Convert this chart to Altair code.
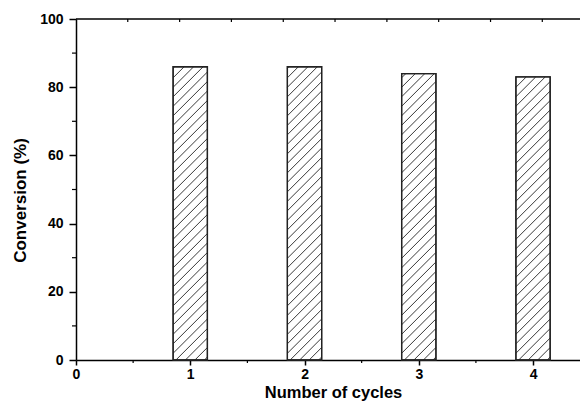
import altair as alt
import pandas as pd

cycles = [1, 2, 3, 4]
conversion = [86, 86, 84, 83]
x_major = [0, 1, 2, 3, 4]
x_minor = [0.5, 1.5, 2.5, 3.5]
y_major = [0, 20, 40, 60, 80, 100]
y_minor = [10, 30, 50, 70, 90]
top_ticks = [0.453, 0.907, 1.360, 1.814, 2.267, 2.721, 3.174, 3.628, 4.081]

W, H = 504, 341
XMAX = 4.411
BAR_HALF = 0.15
HATCH_STEP = 9.5  # px, vertical spacing of hatch lines

FONT = "Liberation Sans"

bars = pd.DataFrame({"c": cycles, "v": conversion})
bars["x0"] = bars["c"] - BAR_HALF
bars["x1"] = bars["c"] + BAR_HALF
bars["y0"] = 0

# hatch segments ("/") computed from bar geometry, expressed in data units
pxx = W / XMAX
pxy = H / 100.0
segs = []
for c, v in zip(cycles, conversion):
    w = 2 * BAR_HALF * pxx
    h = v * pxy
    off = -w + 3
    k = 0
    while off < h:
        if off < 0:
            sx, sy = -off, 0.0
        else:
            sx, sy = 0.0, off
        if off + w > h:
            ex, ey = h - off, h
        else:
            ex, ey = w, off + w
        if ex > sx:
            segs.append({
                "id": f"{c}-{k}",
                "xa": c - BAR_HALF + sx / pxx, "ya": sy / pxy,
                "xb": c - BAR_HALF + ex / pxx, "yb": ey / pxy,
            })
        off += HATCH_STEP
        k += 1
hatch = pd.DataFrame(segs)

xs = alt.Scale(domain=[0, XMAX], nice=False, zero=False)
ys = alt.Scale(domain=[0, 100], nice=False)

x_axis = alt.Axis(
    values=x_major, format="d", tickSize=5, tickWidth=1.5, tickColor="black",
    domainColor="black", domainWidth=1.5, labelFont=FONT, labelFontSize=14,
    labelFontWeight="bold", labelColor="black", labelPadding=2, grid=False,
    labelFlush=False,
    title="Number of cycles", titleFont=FONT, titleFontSize=16.5,
    titleFontWeight="bold", titleColor="black", titleX=257, titleY=37,
    titleBaseline="alphabetic", titleAnchor="middle", titleAlign="center",
)
y_axis = alt.Axis(
    values=y_major, format="d", tickSize=7, tickWidth=1.5, tickColor="black",
    domainColor="black", domainWidth=1.5, labelFont=FONT, labelFontSize=14,
    labelFontWeight="bold", labelColor="black", labelPadding=6, grid=False,
    labelFlush=False,
    title="Conversion (%)", titleFont=FONT, titleFontSize=17,
    titleFontWeight="bold", titleColor="black", titleX=-56, titleY=181,
    titleAngle=-90, titleBaseline="middle", titleAlign="center",
)

base_bars = alt.Chart(bars).mark_rect(
    fill="white", stroke="#222", strokeWidth=1.3
).encode(
    x=alt.X("x0:Q", scale=xs, axis=x_axis),
    x2="x1:Q",
    y=alt.Y("y0:Q", scale=ys, axis=y_axis),
    y2="v:Q",
)

hatch_layer = alt.Chart(hatch).mark_rule(color="#222", strokeWidth=0.9).encode(
    x=alt.X("xa:Q", scale=xs),
    x2="xb:Q",
    y=alt.Y("ya:Q", scale=ys),
    y2="yb:Q",
)

bar_outline = alt.Chart(bars).mark_rect(
    fill=None, stroke="#222", strokeWidth=1.3
).encode(x=alt.X("x0:Q", scale=xs), x2="x1:Q", y=alt.Y("y0:Q", scale=ys), y2="v:Q")

top_line = alt.Chart(pd.DataFrame({"a": [0]})).mark_rule(
    color="black", strokeWidth=1.5
).encode(x=alt.value(0), x2=alt.value(W), y=alt.value(0))

top_tick_layer = alt.Chart(pd.DataFrame({"t": top_ticks})).mark_rule(
    color="black", strokeWidth=1.2
).encode(x=alt.X("t:Q", scale=xs), y=alt.value(0), y2=alt.value(3))

x_minor_layer = alt.Chart(pd.DataFrame({"t": x_minor})).mark_rule(
    color="black", strokeWidth=1.2
).encode(x=alt.X("t:Q", scale=xs), y=alt.value(H), y2=alt.value(H + 3))

y_minor_layer = alt.Chart(pd.DataFrame({"t": y_minor})).mark_rule(
    color="black", strokeWidth=1.2
).encode(y=alt.Y("t:Q", scale=ys), x=alt.value(-4), x2=alt.value(0))

chart = alt.layer(
    base_bars, hatch_layer, bar_outline, top_line, top_tick_layer,
    x_minor_layer, y_minor_layer,
).properties(
    width=W, height=H,
    autosize=alt.AutoSizeParams(type="none"),
    padding={"left": 68, "top": 11, "right": 0, "bottom": 41},
    background="white",
).configure_view(stroke=None)

chart.save("out.html", embed_options={"renderer": "svg", "actions": False})
